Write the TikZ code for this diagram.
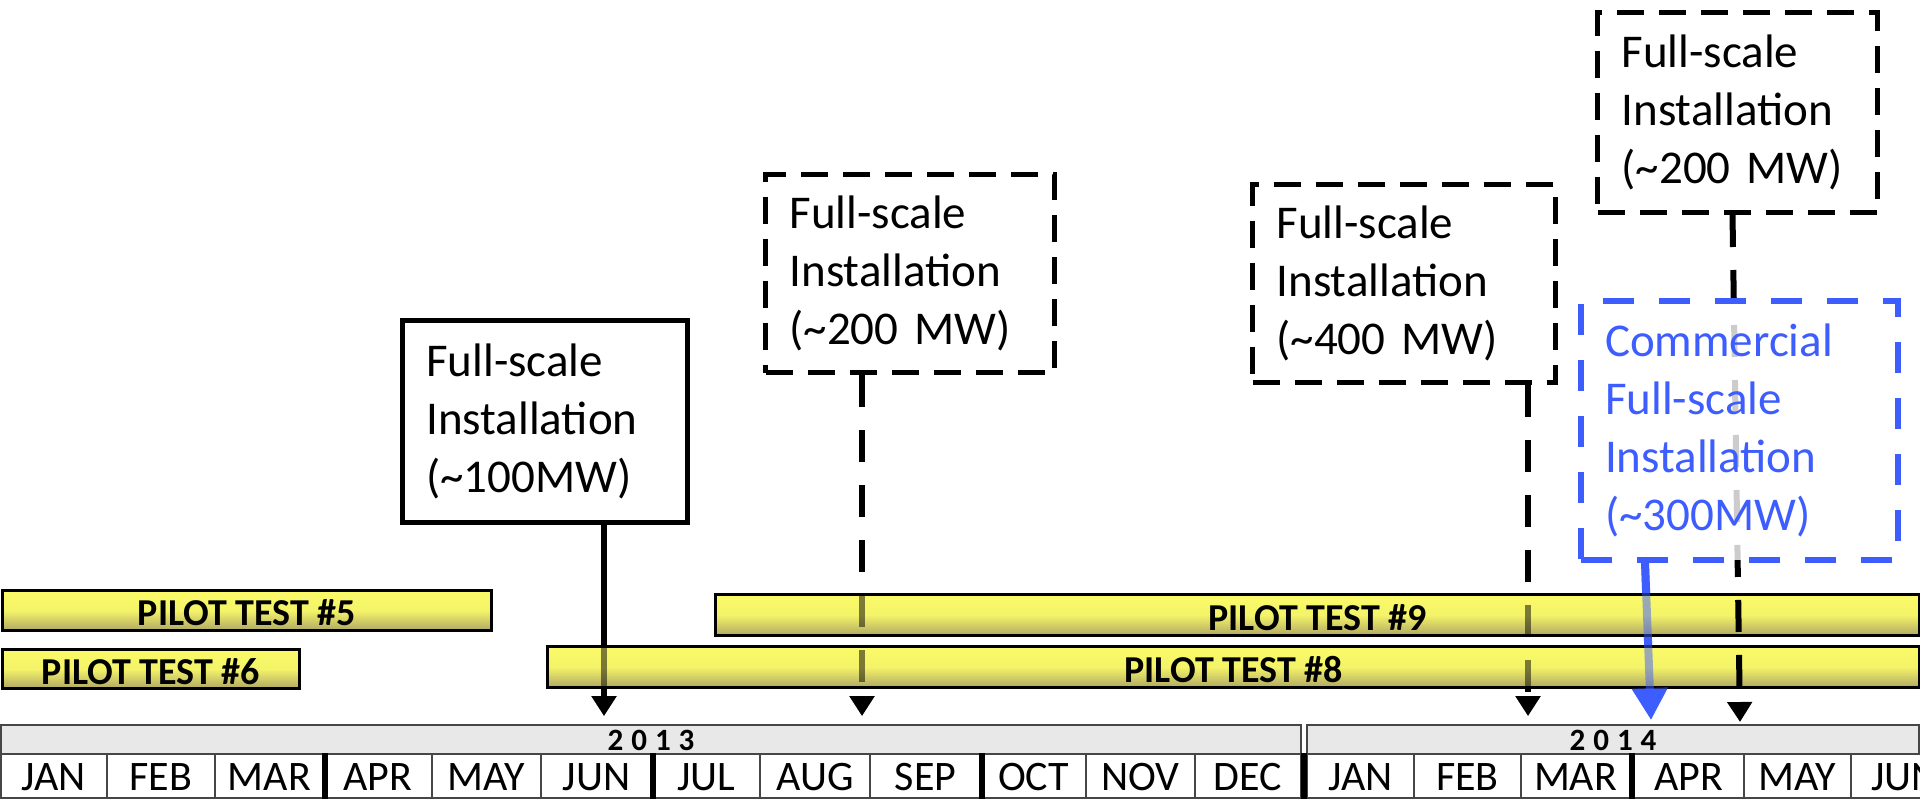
\documentclass[tikz,border=0pt]{standalone}
\usepackage{fontspec}
\setmainfont{Carlito}
\usetikzlibrary{arrows.meta,calc}
\pgfdeclarelayer{fore}
\pgfsetlayers{main,fore}
\definecolor{cblue}{RGB}{61,93,255}
\definecolor{bartop}{RGB}{250,250,105}
\definecolor{barbot}{RGB}{176,168,100}
\definecolor{yeargray}{RGB}{232,232,232}
\definecolor{cellline}{RGB}{70,70,70}
\tikzset{
  callout/.style={rectangle, draw=black, line width=2.25pt, fill=white, align=left,
    inner xsep=12pt, inner ysep=0pt, anchor=north west,
    font=\fontsize{23.5pt}{29pt}\selectfont},
  dashbox/.style={callout, line width=2.5pt, dash pattern=on 13.5pt off 7.5pt},
  bluebox/.style={callout, draw=cblue, text=cblue, line width=3pt,
    dash pattern=on 15.5pt off 12.5pt, fill opacity=0.8, text opacity=1},
  conn/.style={line width=3pt, -{Triangle[width=12pt,length=10pt]}},
  dconn/.style={conn, dash pattern=on 16pt off 11.5pt},
  bconn/.style={line width=4pt, draw=cblue, -{Triangle[width=17pt,length=16pt]}},
  pilot/.style={rectangle, draw=black, line width=1.5pt, top color=bartop,
    bottom color=barbot, middle color=bartop!92!barbot, anchor=north west,
    inner sep=0pt, font=\fontsize{19pt}{21pt}\selectfont\bfseries,
    text height=15.4pt, text depth=0pt},
  month/.style={rectangle, draw=cellline, line width=1pt, fill=white, inner sep=0pt,
    minimum height=22pt, anchor=north west, font=\fontsize{21pt}{24pt}\selectfont,
    text height=14.5pt, text depth=0pt},
  year/.style={rectangle, draw=cellline, line width=1pt, fill=yeargray,
    anchor=north west, inner sep=0pt, minimum height=14.5pt,
    font=\fontsize{15.5pt}{17pt}\selectfont\bfseries, text height=11.2pt, text depth=0pt},
  qdiv/.style={line width=3pt, draw=black},
}
\newcommand\backconns[1]{%
  \draw[conn,#1] (b100.south -| ta) -- (ta);
  \draw[dconn,#1] (b200a.south -| tb) -- (tb);
  \draw[dconn,#1] ([xshift=-15pt]b400.south east) -- (tc);
  \draw[bconn,#1] ([xshift=33.5pt]bcom.south west) -- (te);
}
\begin{document}
\begin{tikzpicture}[x=0.5pt,y=-0.5pt]
\useasboundingbox (0,0) rectangle (1920,799);

% callout boxes
\node[callout, minimum width=142.5pt, minimum height=101pt, text width=118.5pt]
  (b100) at (400,318) {Full-scale\\Installation\\(\textasciitilde100MW)};
\node[dashbox, minimum width=144.5pt, minimum height=99pt, text width=120.5pt]
  (b200a) at (763,172) {Full-scale\\Installation\\(\textasciitilde200 MW)};
\node[dashbox, minimum width=151.5pt, minimum height=99pt, text width=127.5pt]
  (b400) at (1250,182) {Full-scale\\Installation\\(\textasciitilde400 MW)};
\node[dashbox, minimum width=140pt, minimum height=100pt, text width=116pt]
  (b200b) at (1595,10) {Full-scale\\Installation\\(\textasciitilde200 MW)};
\begin{pgfonlayer}{fore}
\node[bluebox, minimum width=158.5pt, minimum height=129.5pt, text width=134.5pt]
  (bcom) at (1578,298) {Commercial\\Full-scale\\Installation\\(\textasciitilde300MW)};
\end{pgfonlayer}

% arrow tips
\coordinate (ta) at (604,716);
\coordinate (tb) at (862,716);
\coordinate (tc) at (1528,716);
\coordinate (td) at (1740,722);
\coordinate (te) at (1651,720);

% connectors behind the bars
\backconns{}

% pilot bars
\node[pilot, minimum width=244.5pt, minimum height=20pt] (p5) at (1,589) {PILOT TEST \#5};
\node[pilot, minimum width=148.5pt, minimum height=19.5pt] (p6) at (1,648) {PILOT TEST \#6};
\node[pilot, minimum width=602pt, minimum height=20.5pt] (p9) at (714,593) {PILOT TEST \#9};
\node[pilot, minimum width=686pt, minimum height=20.5pt] (p8) at (546,645) {PILOT TEST \#8};

% connectors seen through the bars
\backconns{draw opacity=0.5, fill opacity=0.5}

% connector in front of the bars
\draw[dconn] ([xshift=-2.5pt]b200b.south) -- (td);

% year bars
\node[year, minimum width=650pt] (y13) at (0,724) {2\hspace{4pt}0\hspace{4pt}1\hspace{4pt}3};
\node[year, minimum width=306pt] (y14) at (1306,724) {2\hspace{4pt}0\hspace{4pt}1\hspace{4pt}4};

% months
\foreach \nm/\xa/\xb/\lab in {m13a/0/106/JAN, m13b/106/214/FEB, m13c/214/323/MAR,
  m13d/323/431/APR, m13e/431/540/MAY, m13f/540/651/JUN, m13g/651/759/JUL,
  m13h/759/869/AUG, m13i/869/980/SEP, m13j/980/1085/OCT, m13k/1085/1194/NOV,
  m13l/1194/1300/DEC, m14a/1306/1413/JAN, m14b/1413/1520/FEB, m14c/1520/1629/MAR,
  m14d/1632/1743/APR, m14e/1743/1850/MAY, m14f/1850/1958/JUN}
  \node[month, minimum width={(\xb-\xa)*0.5pt}] (\nm) at (\xa,753) {\lab};

% quarter dividers
\draw[qdiv] (m13c.north east) -- (m13c.south east);
\draw[qdiv] (m13f.north east) -- (m13f.south east);
\draw[qdiv] (m13i.north east) -- (m13i.south east);
\draw[qdiv] ($(m13l.north east)!0.5!(m14a.north west)$) -- ($(m13l.south east)!0.5!(m14a.south west)$);
\draw[qdiv] ($(m14c.north east)!0.5!(m14d.north west)$) -- ($(m14c.south east)!0.5!(m14d.south west)$);
\end{tikzpicture}
\end{document}
